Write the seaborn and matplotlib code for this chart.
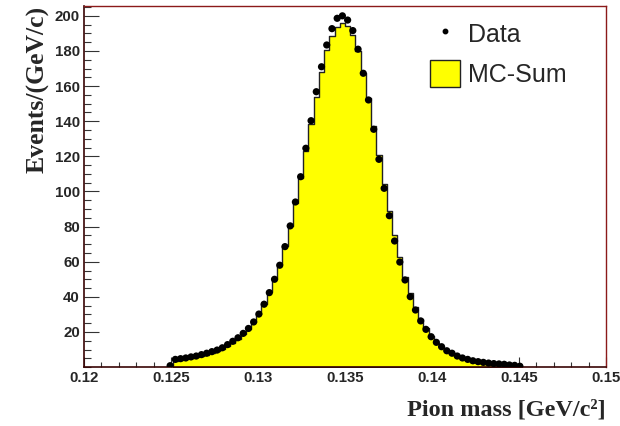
import numpy as np
import pandas as pd
import matplotlib
matplotlib.use("Agg")
import matplotlib.pyplot as plt
import seaborn as sns
from matplotlib.lines import Line2D
from matplotlib.patches import Patch
from matplotlib.ticker import MultipleLocator, FixedLocator, FixedFormatter

# ---------------- data ----------------
bin_width = 0.0003
x_low = 0.12
data_first_bin = 16
data_counts = [
    0.8, 4.4, 4.8, 5.2, 5.8, 6.3, 7.1, 7.9, 8.8, 9.7,
    11.0, 12.8, 14.7, 16.7, 19.2, 22.0, 25.7, 30.2, 35.8, 42.4,
    50.0, 58.0, 68.6, 80.4, 94.0, 108.4, 124.6, 140.3, 156.8, 171.0,
    183.4, 192.7, 198.6, 200.0, 197.6, 191.6, 181.0, 167.3, 152.1, 135.4,
    118.3, 101.8, 86.2, 71.8, 59.8, 49.6, 40.1, 32.5, 26.3, 21.5,
    17.3, 14.1, 11.6, 9.3, 7.9, 6.3, 5.2, 4.4, 3.6, 3.1,
    2.7, 2.3, 2.0, 1.8, 1.6, 1.2, 1.0, 0.5,
]
mc_first_bin = 17
mc_counts = [
    3.6, 4.0, 4.5, 5.0, 5.6, 6.3, 7.1, 8.0, 9.0,
    10.3, 11.9, 13.8, 16.0, 18.6, 21.8, 25.6, 30.2, 35.8, 42.5,
    50.2, 58.8, 68.8, 80.5, 93.5, 107.5, 123.0, 138.5, 154.0, 168.0,
    180.5, 188.5, 193.8, 195.8, 194.2, 189.0, 180.0, 167.5, 153.0, 137.0,
    120.5, 104.5, 89.0, 75.0, 62.5, 51.5, 42.0, 34.0, 27.5, 22.0,
    17.5, 14.0, 11.2, 9.0, 7.2, 5.8, 4.7, 3.8, 3.1, 2.5,
    2.0, 1.7, 1.4, 1.1, 0.9, 0.7, 0.5, 0.3,
]
x_ticks = [0.12, 0.125, 0.13, 0.135, 0.14, 0.145, 0.15]
x_tick_labels = ["0.12", "0.125", "0.13", "0.135", "0.14", "0.145", "0.15"]
y_ticks = [20, 40, 60, 80, 100, 120, 140, 160, 180, 200]
legend_labels = ["Data", "MC-Sum"]

# ---------------- derived tables ----------------
data_idx = np.arange(data_first_bin, data_first_bin + len(data_counts))
df_data = pd.DataFrame({"mass": x_low + bin_width * (data_idx + 0.5),
                        "events": data_counts})
mc_idx = np.arange(mc_first_bin, mc_first_bin + len(mc_counts))
df_mc = pd.DataFrame({"mass": x_low + bin_width * (mc_idx + 0.5),
                      "events": mc_counts})
mc_edges = [float(x_low + bin_width * i)
            for i in range(mc_first_bin, mc_first_bin + len(mc_counts) + 1)]

# ---------------- style ----------------
sns.set_style("white")
plt.rcParams["font.family"] = ["Liberation Sans", "DejaVu Sans"]

fig = plt.figure(figsize=(6.2, 4.26), dpi=100)
ax = fig.add_axes([84 / 620, 1 - 367.1 / 426, 522 / 620, 361.1 / 426])

sns.histplot(x=df_mc["mass"].to_numpy(), weights=df_mc["events"].to_numpy(),
             bins=mc_edges, element="step", fill=True, color="#ffff00",
             alpha=1.0, edgecolor="#222222", linewidth=1.0, ax=ax)
sns.scatterplot(data=df_data, x="mass", y="events", color="black",
                s=27, edgecolor="none", ax=ax, zorder=5)

ax.set_xlim(0.12, 0.15)
ax.set_ylim(0, 205.6)

# ticks
ax.xaxis.set_major_locator(FixedLocator(x_ticks))
ax.xaxis.set_major_formatter(FixedFormatter(x_tick_labels))
ax.xaxis.set_minor_locator(MultipleLocator(0.001))
ax.yaxis.set_major_locator(FixedLocator(y_ticks))
ax.yaxis.set_minor_locator(MultipleLocator(5))
ax.tick_params(axis="x", which="major", direction="in", length=7.5, width=0.8,
               pad=2.5, labelsize=10.8, color="#333333")
ax.tick_params(axis="x", which="minor", direction="in", length=3.6, width=0.8,
               color="#333333")
ax.tick_params(axis="y", which="major", direction="in", length=11, width=0.8,
               pad=3, labelsize=10.8, color="#333333")
ax.tick_params(axis="y", which="minor", direction="in", length=5, width=0.8,
               color="#333333")
ax.tick_params(bottom=True, left=True, top=False, right=False, which="both")
for lab in ax.get_xticklabels() + ax.get_yticklabels():
    lab.set_fontweight("bold")

for side in ["top", "right"]:
    ax.spines[side].set_color("#8b1a1a")
    ax.spines[side].set_linewidth(1.0)
for side in ["left", "bottom"]:
    ax.spines[side].set_color("#3a0505")
    ax.spines[side].set_linewidth(1.2)

# axis labels
ax.set_xlabel("Pion mass [GeV/c²]", fontfamily="Liberation Serif",
              fontweight="bold", fontsize=17.5, ha="right", va="center")
ax.xaxis.set_label_coords(1.0, -0.119)
ax.set_ylabel("Events/(GeV/c)", fontfamily="Liberation Serif",
              fontweight="bold", fontsize=18.5, ha="right", va="center",
              rotation_mode="anchor")
ax.yaxis.set_label_coords(-0.088, 0.999)

# legend
handles = [
    Line2D([0], [0], marker="o", linestyle="none", color="black",
           markersize=3.2),
    Patch(facecolor="#ffff00", edgecolor="#222222", linewidth=1.0),
]
ax.legend(handles, legend_labels, loc="upper left",
          bbox_to_anchor=((430 - 84) / 522, (367.1 - 20) / 361.1),
          frameon=False, fontsize=18, handlelength=1.2, handleheight=1.3,
          handletextpad=0.3, labelspacing=0.5, borderpad=0, borderaxespad=0)

fig.savefig("out.png", dpi=100)
